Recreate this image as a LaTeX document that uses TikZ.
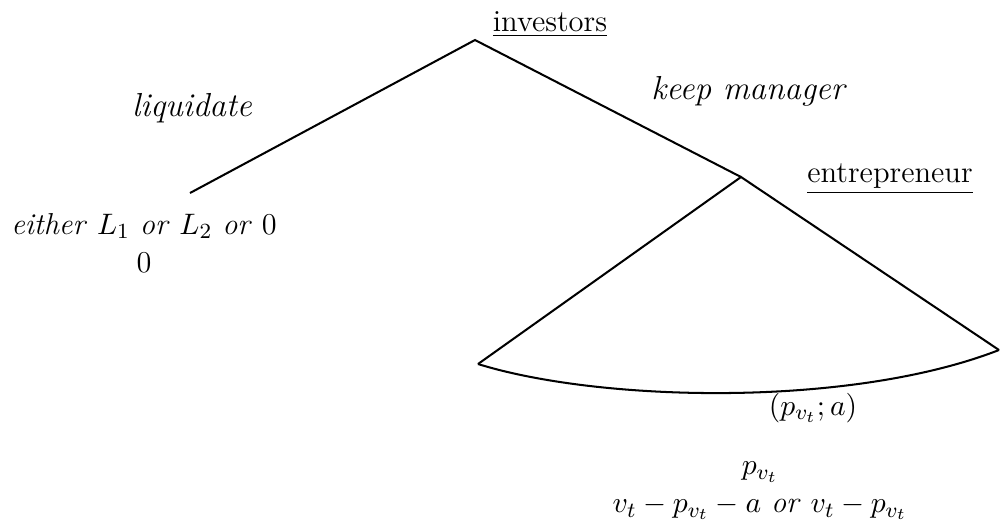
\documentclass[tikz,border=0pt]{standalone}
\usepackage{tikz}
\usetikzlibrary{positioning}
\tikzset{
  edge/.style={line width=0.75pt, draw=black},
  mv/.style={font=\fontsize{12.3}{14}\selectfont\itshape, inner sep=1pt},
  plyr/.style={font=\fontsize{11.3}{14}\selectfont, inner sep=1pt},
  pay/.style={font=\fontsize{11.2}{14}\selectfont, inner sep=1pt, align=center},
}

\begin{document}
\begin{tikzpicture}[x=0.013cm,y=-0.013cm]
  \useasboundingbox (0,0) rectangle (1001,525);

  % decision points
  \coordinate (inv) at (475,40);
  \coordinate (liq) at (190,193);
  \coordinate (ent) at (741,177);
  \coordinate (lc) at (478,364);
  \coordinate (rc) at (999,350);

  % players
  \node[plyr] (invlbl) at (550,24) {\underline{investors}};
  \node[plyr] (entlbl) at (890,179) {\underline{entrepreneur}};

  % branches
  \draw[edge] (liq) -- (inv) -- (ent);
  \draw[edge] (lc) -- (ent) -- (rc);
  \draw[edge] (lc) .. controls (600,402) and (850,408) .. (rc);

  % moves
  \node[mv] (liqlbl) at (192,108) {liquidate};
  \node[mv] (keeplbl) at (748,91) {keep manager};
  \node[pay] (offer) at (813,408) {$(p_{v_t};a)$};

  % payoffs
  \node[pay] (liqpay) at (144,243) {\textit{either} $L_1$ \textit{or} $L_2$ \textit{or} 0\\0};
  \node[pay] (keeppay) at (760,491) {$p_{v_t}$\\$v_t-p_{v_t}-a$ \textit{or} $v_t-p_{v_t}$};
\end{tikzpicture}
\end{document}
